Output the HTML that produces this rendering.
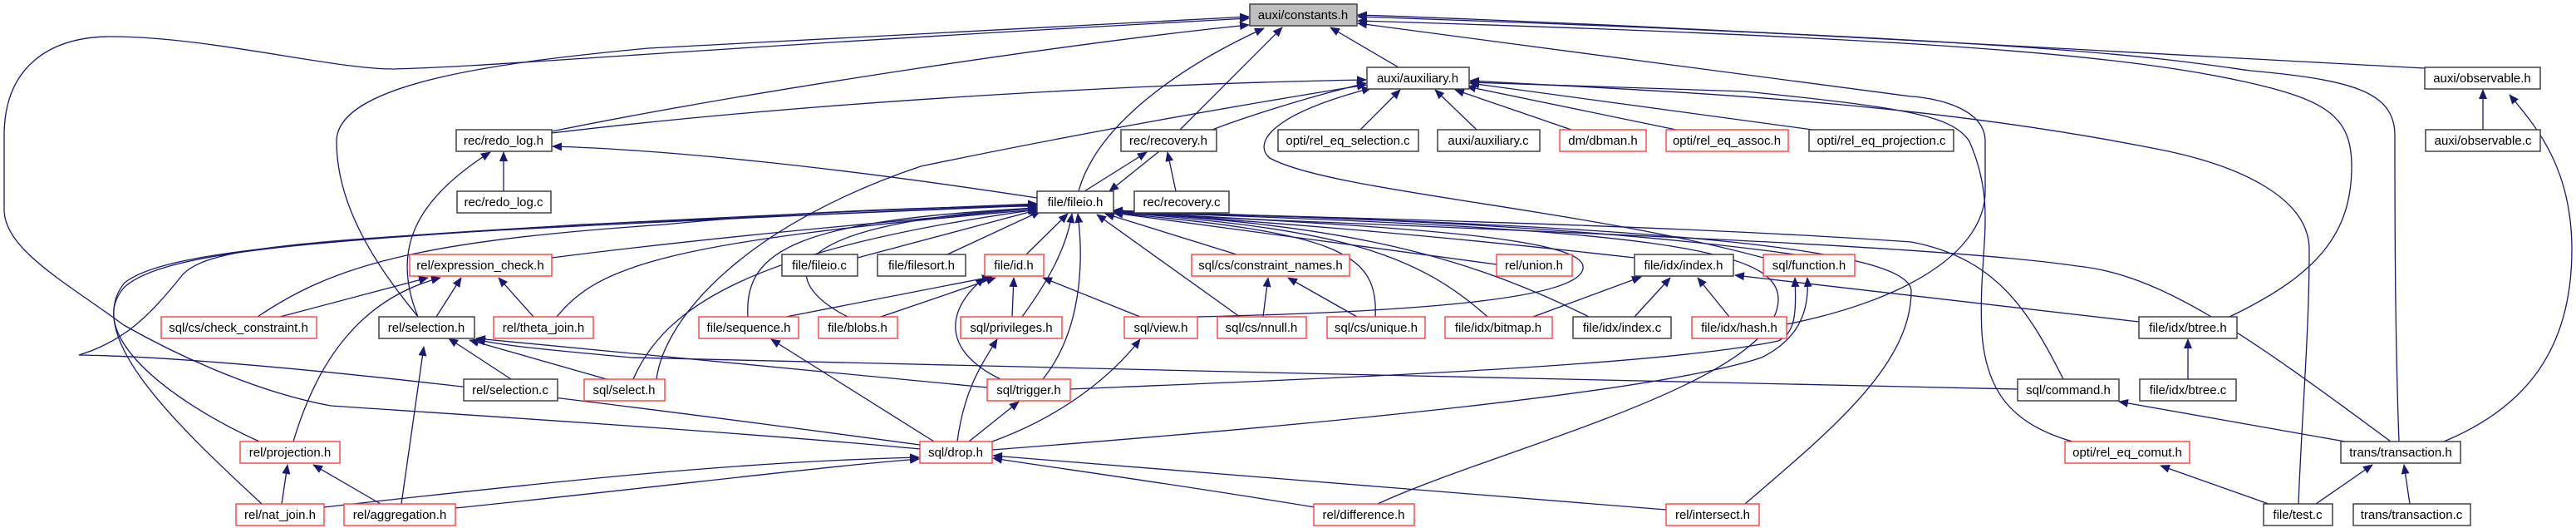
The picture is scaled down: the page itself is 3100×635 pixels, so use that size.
<!DOCTYPE html>
<html><head><meta charset="utf-8"><style>
html,body{margin:0;padding:0;background:#fff;}
svg{display:block}
text{font-family:"Liberation Sans",sans-serif;font-size:15px;fill:#000;text-anchor:middle}
.e{fill:none;stroke:#191970;stroke-width:1.3;marker-end:url(#a)}
.b{fill:#fff;stroke:#404040;stroke-width:1.5}
.r{fill:#fff;stroke:#ff3030;stroke-width:1.3}
</style></head><body>
<svg width="3100" height="635" viewBox="0 0 3100 635">
<defs><marker id="a" markerUnits="userSpaceOnUse" markerWidth="12" markerHeight="10" refX="11" refY="5" orient="auto"><path d="M0,0 L12,5 L0,10 z" fill="#191970"/></marker></defs>
<g>
<path class="e" d="M1683,81 L1601,33"/>
<path class="e" d="M664,158 C900,110 1300,50 1503,30"/>
<path class="e" d="M664,160 C1000,120 1400,100 1644,96"/>
<path class="e" d="M1420,156 L1543,33"/>
<path class="e" d="M1298,230 C1320,150 1420,80 1521,34"/>
<path class="e" d="M503,381 C470,340 405,260 405,170 C405,100 600,75 780,58 L1503,20"/>
<path class="e" d="M1107,540 C900,520 500,495 398,488 C300,470 200,420 149,391 C80,340 5,300 5,252 L5,163 C5,80 60,44 134,44 C250,44 400,83 473,83 C600,80 800,60 1503,22"/>
<path class="e" d="M2918,82 C2500,60 2000,30 1634,18"/>
<path class="e" d="M2887,531 C2882,400 2882,250 2882,163 C2882,110 2830,96 2708,85 C2600,70 2500,50 1634,20"/>
<path class="e" d="M2683,381 C2790,330 2830,280 2830,200 C2830,140 2800,120 2700,98 C2550,65 2300,45 1634,25"/>
<path class="e" d="M2150,390 C2300,360 2389,300 2389,230 L2389,170 C2389,130 2330,118 2300,116 C2100,90 1800,50 1634,28"/>
<path class="e" d="M1459,156 C1500,140 1580,115 1644,100"/>
<path class="e" d="M790,456 C800,380 900,270 1108,200 C1300,160 1500,125 1644,102"/>
<path class="e" d="M2122,310 C1900,250 1600,230 1528,190 C1510,175 1520,140 1650,106"/>
<path class="e" d="M1637,156 L1685,108"/>
<path class="e" d="M1777,156 L1727,108"/>
<path class="e" d="M1891,156 L1751,108"/>
<path class="e" d="M2017,156 L1765,104"/>
<path class="e" d="M2181,156 L1769,100"/>
<path class="e" d="M2766,606 C2770,500 2779,400 2779,300 C2779,240 2700,200 2600,180 C2300,120 2000,110 1769,97"/>
<path class="e" d="M2494,531 C2420,510 2390,470 2385,400 C2380,300 2405,250 2370,170 C2350,140 2300,130 2100,110 L1769,99"/>
<path class="e" d="M1248,238 C1000,200 800,180 665,176"/>
<path class="e" d="M1395,182 L1335,230"/>
<path class="e" d="M1305,230 L1380,183"/>
<path class="e" d="M1415,230 L1405,183"/>
<path class="e" d="M606,230 L606,183"/>
<path class="e" d="M503,381 C470,300 500,240 590,183"/>
<path class="e" d="M1032,310 L1250,252"/>
<path class="e" d="M1140,306 L1252,254"/>
<path class="e" d="M1235,306 L1285,257"/>
<path class="e" d="M1488,306 L1330,257"/>
<path class="e" d="M664,310 C900,280 1100,265 1248,250"/>
<path class="e" d="M670,381 C720,320 800,290 1248,252"/>
<path class="e" d="M310,381 C400,320 500,290 800,270 C1000,250 1200,248 1248,248"/>
<path class="e" d="M762,456 C800,370 900,300 1248,252"/>
<path class="e" d="M312,531 C200,480 100,400 150,345 C200,300 400,290 700,270 L1248,247"/>
<path class="e" d="M315,606 C200,500 100,400 150,340 C200,300 400,280 1248,245"/>
<path class="e" d="M1107,535 C700,480 300,430 95,427 C150,410 180,380 220,330 C260,290 400,285 1248,246"/>
<path class="e" d="M900,381 C895,300 960,265 1248,250"/>
<path class="e" d="M1020,381 C940,340 920,270 1248,250"/>
<path class="e" d="M1230,381 C1260,340 1283,300 1290,257"/>
<path class="e" d="M1255,456 C1300,400 1305,320 1297,257"/>
<path class="e" d="M1441,381 C1700,375 1910,360 1905,320 C1900,280 1600,270 1340,254"/>
<path class="e" d="M1492,381 L1320,258"/>
<path class="e" d="M1801,318 C1600,290 1450,270 1340,256"/>
<path class="e" d="M1967,310 C1700,280 1500,265 1340,255"/>
<path class="e" d="M1655,381 C1660,300 1600,280 1340,256"/>
<path class="e" d="M1790,381 C1700,300 1600,275 1340,255"/>
<path class="e" d="M1912,381 C1750,300 1600,270 1340,255"/>
<path class="e" d="M2160,306 C1900,270 1600,262 1340,253"/>
<path class="e" d="M2877,531 C2700,400 2600,330 2500,320 C2300,290 1600,270 1340,256"/>
<path class="e" d="M2483,456 C2440,370 2400,310 2300,291 C2000,270 1600,262 1340,254"/>
<path class="e" d="M1658,606 C1800,540 2140,460 2140,360 C2140,300 2000,275 1340,255"/>
<path class="e" d="M2100,606 C2200,520 2300,440 2300,350 C2300,300 2000,270 1340,255"/>
<path class="e" d="M946,381 L1193,333"/>
<path class="e" d="M1060,381 L1198,334"/>
<path class="e" d="M1218,381 L1220,334"/>
<path class="e" d="M1372,381 L1255,334"/>
<path class="e" d="M1204,456 C1130,420 1140,370 1185,334"/>
<path class="e" d="M337,381 L515,334"/>
<path class="e" d="M525,381 L555,334"/>
<path class="e" d="M642,381 L600,334"/>
<path class="e" d="M353,531 C380,440 430,360 530,334"/>
<path class="e" d="M1520,381 L1526,334"/>
<path class="e" d="M1633,381 L1550,334"/>
<path class="e" d="M1845,381 L1975,333"/>
<path class="e" d="M1967,381 L2010,334"/>
<path class="e" d="M2081,381 L2043,334"/>
<path class="e" d="M2574,387 L2088,331"/>
<path class="e" d="M615,456 L540,407"/>
<path class="e" d="M730,456 L565,409"/>
<path class="e" d="M483,606 L510,417"/>
<path class="e" d="M1188,466 C900,440 700,420 573,407"/>
<path class="e" d="M2428,468 C2000,460 1200,440 760,430 C650,420 600,415 573,408"/>
<path class="e" d="M339,606 L346,559"/>
<path class="e" d="M458,606 L377,559"/>
<path class="e" d="M390,610 C700,575 900,555 1106,550"/>
<path class="e" d="M548,611 C800,585 1000,560 1106,552"/>
<path class="e" d="M1582,610 C1400,580 1250,560 1195,551"/>
<path class="e" d="M2005,613 C1700,590 1400,565 1195,548"/>
<path class="e" d="M1124,531 L928,408"/>
<path class="e" d="M1152,531 C1160,470 1180,440 1200,408"/>
<path class="e" d="M1166,531 L1226,483"/>
<path class="e" d="M1194,531 C1280,500 1340,450 1372,408"/>
<path class="e" d="M1194,541 C1600,510 2000,470 2120,430 C2160,410 2178,380 2175,334"/>
<path class="e" d="M1288,468 C1600,455 2000,440 2140,410 C2160,400 2162,380 2160,334"/>
<path class="e" d="M2730,606 L2600,560"/>
<path class="e" d="M2787,606 L2855,559"/>
<path class="e" d="M2900,606 L2893,559"/>
<path class="e" d="M2822,531 L2550,483"/>
<path class="e" d="M2941,531 C3040,490 3095,420 3095,300 C3095,200 3050,150 3020,114"/>
<path class="e" d="M2988,156 L2988,108"/>
<path class="e" d="M2633,456 L2633,408"/>
</g>
<g>
<rect x="1504" y="5" width="129" height="26" fill="#bfbfbf" stroke="#404040" stroke-width="1.5"/><text x="1568" y="23">auxi/constants.h</text>
<rect class="b" x="1645" y="81" width="123" height="26"/><text x="1706" y="99">auxi/auxiliary.h</text>
<rect class="b" x="2918" y="81" width="139" height="26"/><text x="2987" y="99">auxi/observable.h</text>
<rect class="b" x="549" y="156" width="115" height="26"/><text x="606" y="174">rec/redo_log.h</text>
<rect class="b" x="1349" y="156" width="115" height="26"/><text x="1406" y="174">rec/recovery.h</text>
<rect class="b" x="1538" y="156" width="169" height="26"/><text x="1622" y="174">opti/rel_eq_selection.c</text>
<rect class="b" x="1730" y="156" width="123" height="26"/><text x="1791" y="174">auxi/auxiliary.c</text>
<rect class="r" x="1877" y="156" width="104" height="26"/><text x="1929" y="174">dm/dbman.h</text>
<rect class="r" x="2005" y="156" width="147" height="26"/><text x="2078" y="174">opti/rel_eq_assoc.h</text>
<rect class="b" x="2177" y="156" width="174" height="26"/><text x="2264" y="174">opti/rel_eq_projection.c</text>
<rect class="b" x="2919" y="156" width="138" height="26"/><text x="2988" y="174">auxi/observable.c</text>
<rect class="b" x="550" y="230" width="113" height="26"/><text x="606" y="248">rec/redo_log.c</text>
<rect class="b" x="1248" y="230" width="92" height="26"/><text x="1294" y="248">file/fileio.h</text>
<rect class="b" x="1365" y="230" width="114" height="26"/><text x="1422" y="248">rec/recovery.c</text>
<rect class="r" x="493" y="306" width="171" height="26"/><text x="578" y="324">rel/expression_check.h</text>
<rect class="b" x="941" y="306" width="91" height="26"/><text x="986" y="324">file/fileio.c</text>
<rect class="b" x="1056" y="306" width="106" height="26"/><text x="1109" y="324">file/filesort.h</text>
<rect class="r" x="1185" y="306" width="71" height="26"/><text x="1220" y="324">file/id.h</text>
<rect class="r" x="1434" y="306" width="190" height="26"/><text x="1529" y="324">sql/cs/constraint_names.h</text>
<rect class="r" x="1801" y="306" width="91" height="26"/><text x="1846" y="324">rel/union.h</text>
<rect class="b" x="1967" y="306" width="119" height="26"/><text x="2026" y="324">file/idx/index.h</text>
<rect class="r" x="2122" y="306" width="110" height="26"/><text x="2177" y="324">sql/function.h</text>
<rect class="r" x="194" y="381" width="187" height="26"/><text x="287" y="399">sql/cs/check_constraint.h</text>
<rect class="b" x="456" y="381" width="115" height="26"/><text x="513" y="399">rel/selection.h</text>
<rect class="r" x="594" y="381" width="120" height="26"/><text x="654" y="399">rel/theta_join.h</text>
<rect class="r" x="841" y="381" width="120" height="26"/><text x="901" y="399">file/sequence.h</text>
<rect class="r" x="985" y="381" width="95" height="26"/><text x="1032" y="399">file/blobs.h</text>
<rect class="r" x="1156" y="381" width="122" height="26"/><text x="1217" y="399">sql/privileges.h</text>
<rect class="r" x="1353" y="381" width="88" height="26"/><text x="1397" y="399">sql/view.h</text>
<rect class="r" x="1465" y="381" width="107" height="26"/><text x="1518" y="399">sql/cs/nnull.h</text>
<rect class="r" x="1597" y="381" width="118" height="26"/><text x="1656" y="399">sql/cs/unique.h</text>
<rect class="r" x="1739" y="381" width="129" height="26"/><text x="1803" y="399">file/idx/bitmap.h</text>
<rect class="b" x="1893" y="381" width="118" height="26"/><text x="1952" y="399">file/idx/index.c</text>
<rect class="r" x="2036" y="381" width="114" height="26"/><text x="2093" y="399">file/idx/hash.h</text>
<rect class="b" x="2574" y="381" width="118" height="26"/><text x="2633" y="399">file/idx/btree.h</text>
<rect class="b" x="558" y="456" width="113" height="26"/><text x="614" y="474">rel/selection.c</text>
<rect class="r" x="703" y="456" width="97" height="26"/><text x="751" y="474">sql/select.h</text>
<rect class="r" x="1188" y="456" width="100" height="26"/><text x="1238" y="474">sql/trigger.h</text>
<rect class="b" x="2428" y="456" width="122" height="26"/><text x="2489" y="474">sql/command.h</text>
<rect class="b" x="2575" y="456" width="116" height="26"/><text x="2633" y="474">file/idx/btree.c</text>
<rect class="r" x="289" y="531" width="120" height="26"/><text x="349" y="549">rel/projection.h</text>
<rect class="r" x="1107" y="531" width="87" height="26"/><text x="1150" y="549">sql/drop.h</text>
<rect class="r" x="2485" y="531" width="150" height="26"/><text x="2560" y="549">opti/rel_eq_comut.h</text>
<rect class="b" x="2817" y="531" width="144" height="26"/><text x="2889" y="549">trans/transaction.h</text>
<rect class="r" x="284" y="606" width="106" height="26"/><text x="337" y="624">rel/nat_join.h</text>
<rect class="r" x="414" y="606" width="134" height="26"/><text x="481" y="624">rel/aggregation.h</text>
<rect class="r" x="1581" y="606" width="121" height="26"/><text x="1641" y="624">rel/difference.h</text>
<rect class="r" x="2005" y="606" width="112" height="26"/><text x="2061" y="624">rel/intersect.h</text>
<rect class="b" x="2724" y="606" width="83" height="26"/><text x="2765" y="624">file/test.c</text>
<rect class="b" x="2832" y="606" width="141" height="26"/><text x="2902" y="624">trans/transaction.c</text>
</g>
</svg>
</body></html>
